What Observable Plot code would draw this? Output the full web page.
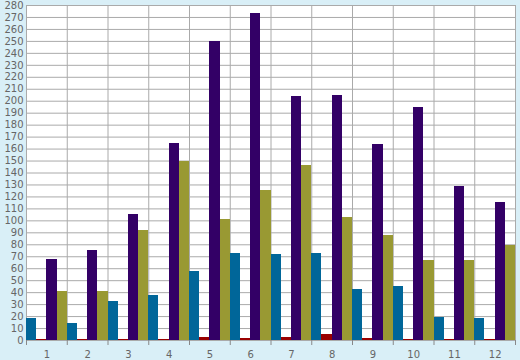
<!DOCTYPE html>
<html>
<head>
<meta charset="utf-8">
<script src="https://cdn.jsdelivr.net/npm/d3@7"></script>
<script src="https://cdn.jsdelivr.net/npm/@observablehq/plot@0.6"></script>
<style>
  html, body { margin: 0; padding: 0; background: #d9eff7; }
  #chart svg { display: block; }
</style>
</head>
<body>
<div id="chart"></div>
<script>
const groups = [1, 2, 3, 4, 5, 6, 7, 8, 9, 10, 11, 12];
const seriesNames = ["A", "B", "C", "D"];
const seriesColors = ["#006699", "#990000", "#330066", "#999933"];
const seriesA = [18, 14, 33, 38, 58, 73, 72, 73, 43, 45, 19, 18];
const seriesB = [0.8, 0.8, 0.8, 0.8, 2.2, 1.4, 2.2, 4.6, 1.5, 0.8, 0.8, 0.8];
const seriesC = [68, 75, 105, 165, 250, 273, 204, 205, 164, 195, 129, 115];
const seriesD = [41, 41, 92, 150, 101, 125, 146, 103, 88, 67, 67, 79];
const yTicks = d3.range(0, 281, 10);

const seriesValues = [seriesA, seriesB, seriesC, seriesD];
const nS = seriesNames.length;
const data = groups.flatMap((g, gi) =>
  seriesNames.map((s, si) => ({
    group: g,
    series: s,
    x1: g - 0.5 + si / nS,
    x2: g - 0.5 + (si + 1) / nS,
    value: seriesValues[si][gi]
  }))
);
const boundaries = [groups[0] - 0.5, ...groups.map(g => g + 0.5)];

const chart = Plot.plot({
  width: 520,
  height: 360,
  marginLeft: 26,
  marginRight: 5,
  marginTop: 5,
  marginBottom: 20,
  style: { background: "#d9eff7", fontFamily: "DejaVu Sans, Verdana, sans-serif", fontSize: "10px", color: "#666666" },
  x: { domain: [0.5, 12.5], label: null },
  y: { domain: [0, 280], label: null },
  color: { domain: seriesNames, range: seriesColors },
  marks: [
    Plot.frame({ fill: "white", stroke: "none" }),
    Plot.gridY(yTicks, { stroke: "#aaaaaa", strokeOpacity: 1 }),
    Plot.gridX(boundaries, { stroke: "#aaaaaa", strokeOpacity: 1 }),
    Plot.rectY(data, { x1: "x1", x2: "x2", y: "value", fill: "series", shapeRendering: "crispEdges" }),
    Plot.axisY(yTicks, { tickSize: 0, tickPadding: 3, fill: "#666666" }),
    Plot.axisX(boundaries, { tickSize: 5, stroke: "#888888", tickFormat: () => "" }),
    Plot.axisX(groups, { tickSize: 0, tickPadding: 10, fill: "#666666", tickFormat: d => String(d) })
  ]
});
document.getElementById("chart").append(chart);
</script>
</body>
</html>
